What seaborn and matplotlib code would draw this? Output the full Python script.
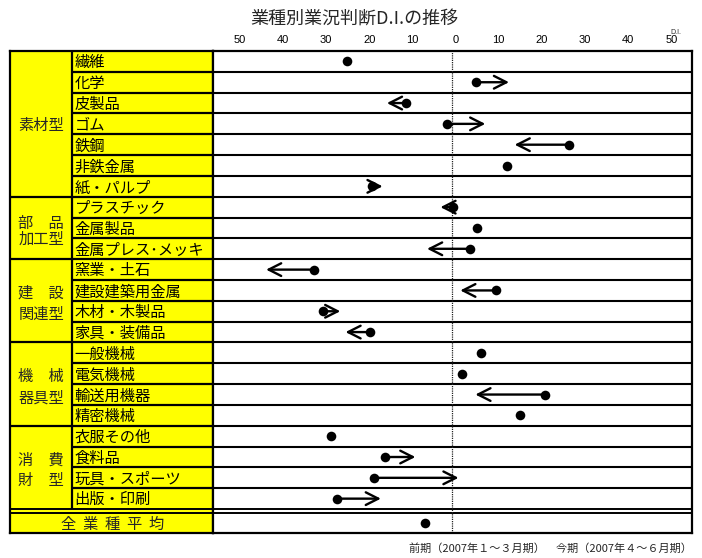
import matplotlib
matplotlib.use("Agg")
import matplotlib.pyplot as plt
import matplotlib.transforms as mtransforms
import numpy as np
import pandas as pd
import seaborn as sns

# ---- data -------------------------------------------------------------
groups = ["素材型", "部　品\n加工型", "建　設\n関連型", "機　械\n器具型", "消　費\n財　型"]
group_sizes = [7, 3, 4, 4, 4]

industries = [
    "繊維", "化学", "皮製品", "ゴム", "鉄鋼", "非鉄金属", "紙・パルプ",
    "プラスチック", "金属製品", "金属プレス･メッキ",
    "窯業・土石", "建設建築用金属", "木材・木製品", "家具・装備品",
    "一般機械", "電気機械", "輸送用機器", "精密機械",
    "衣服その他", "食料品", "玩具・スポーツ", "出版・印刷",
]
# previous period (Jan-Mar 2007) and current period (Apr-Jun 2007) D.I.
di_prev = [-24.4, 5.5, -10.7, -1.2, 26.9, 12.7, -18.7,
           0.1, 5.6, 4.1,
           -32.2, 10.0, -30.0, -19.2,
           6.7, 2.1, 21.5, 15.7,
           -28.1, -15.7, -18.1, -26.8]
di_curr = [-24.4, 13.1, -15.2, 7.6, 14.4, 12.7, -16.2,
           -2.8, 5.6, -5.9,
           -43.2, 1.8, -26.0, -24.8,
           6.7, 2.1, 5.3, 15.7,
           -28.1, -8.6, 1.4, -16.6]
avg_label = "全  業  種  平  均"
avg_prev = -6.3
avg_curr = -6.3

tick_values = [-50, -40, -30, -20, -10, 0, 10, 20, 30, 40, 50]
tick_labels = [str(abs(v)) for v in tick_values]

title = "業種別業況判断D.I.の推移"
footer = "前期（2007年１～３月期）　今期（2007年４～６月期）"

# ---- layout -----------------------------------------------------------
sns.set_theme(style="white")
plt.rcParams["font.family"] = ["Noto Sans CJK JP", "DejaVu Sans"]

W, H = 702, 558
fig = plt.figure(figsize=(W / 100, H / 100), dpi=100)
fig.patch.set_facecolor("white")

top_px, bot_px = 51, 533
left_px, split_px, right_px = 10, 213, 692
n = len(industries)
avg_pos = n + 0.175          # the average row sits below a double rule
y_lo, y_hi = -0.5, n + 0.65
label_fs = 11
text_dy = 0.06               # CJK glyphs sit a touch low in each cell

tab = fig.add_axes([left_px / W, 1 - bot_px / H, (split_px - left_px) / W,
                    (bot_px - top_px) / H])
ax = fig.add_axes([split_px / W, 1 - bot_px / H, (right_px - split_px) / W,
                   (bot_px - top_px) / H], sharey=tab)

df = pd.DataFrame({
    "industry": industries + ["全業種平均"],
    "prev": di_prev + [avg_prev],
    "curr": di_curr + [avg_curr],
})
df["pos"] = list(np.arange(n, dtype=float)) + [avg_pos]

# ---- label table ------------------------------------------------------
tab_w = split_px - left_px
grp_w = 72 - left_px
tab.set_xlim(0, tab_w)
tab.set_ylim(y_hi, y_lo)
tab.set_facecolor("#FFFF00")
for s in tab.spines.values():
    s.set_color("black")
    s.set_linewidth(1.6)
tab.set_xticks([])

bounds = np.cumsum(group_sizes)
for i in range(n - 1):
    y = i + 0.5
    if (i + 1) in bounds:
        tab.hlines(y, 0, tab_w, color="black", lw=1.6)
    else:
        tab.hlines(y, grp_w, tab_w, color="black", lw=1.6)
tab.hlines([n - 0.5, n - 0.3], 0, tab_w, color="black", lw=1.4)
tab.vlines(grp_w, y_lo, n - 0.5, color="black", lw=1.6)

for i, name in enumerate(industries):
    tab.text(grp_w + 2.5, i + text_dy, name, ha="left", va="center",
             fontsize=label_fs, color="black")

start = 0
gaps = [0.0, 0.75, 1.0, 1.0, 1.0]
for g, size, gap in zip(groups, group_sizes, gaps):
    center = start + (size - 1) / 2
    lines = g.split("\n")
    if len(lines) == 1:
        tab.text(grp_w / 2, center + text_dy, lines[0], ha="center",
                 va="center", fontsize=label_fs)
    else:
        c = center + 0.15
        tab.text(grp_w / 2, c - gap / 2, lines[0], ha="center", va="center",
                 fontsize=label_fs)
        tab.text(grp_w / 2, c + gap / 2, lines[1], ha="center", va="center",
                 fontsize=label_fs)
    start += size

tab.text(tab_w / 2 + 1, avg_pos + text_dy, avg_label, ha="center",
         va="center", fontsize=label_fs)

# ---- D.I. panel -------------------------------------------------------
ax.set_facecolor("white")
ax.set_xlim(-55.5, 55.5)
for s in ax.spines.values():
    s.set_color("black")
    s.set_linewidth(1.6)
for i in range(n - 1):
    ax.axhline(i + 0.5, color="black", lw=1.5, zorder=1)
ax.axhline(n - 0.5, color="black", lw=1.4, zorder=1)
ax.axhline(n - 0.3, color="black", lw=1.4, zorder=1)
ax.axvline(0, color="#222222", lw=0.9, ls=(0, (1, 0.8)), zorder=2)

moved = df[df["prev"] != df["curr"]]
for _, r in moved.iterrows():
    ax.annotate("", xy=(r["curr"], r["pos"]), xytext=(r["prev"], r["pos"]),
                arrowprops=dict(arrowstyle="->,head_length=0.75,head_width=0.38",
                                lw=1.7, color="black", shrinkA=0, shrinkB=0),
                zorder=4)

sns.scatterplot(data=df, x="prev", y="pos", color="black", s=48,
                linewidth=0, ax=ax, legend=False, zorder=5)

ax.set_xlabel("")
ax.set_ylabel("")
ax.set_yticks([])
ax.xaxis.tick_top()
ax.set_xticks(tick_values)
ax.set_xticklabels(tick_labels, family=["Liberation Sans", "DejaVu Sans"])
ax.tick_params(axis="x", length=0, pad=4, labelsize=8, colors="black")
shift = mtransforms.ScaledTranslation(3 / 100, 0, fig.dpi_scale_trans)
for lab in ax.get_xticklabels():
    lab.set_transform(lab.get_transform() + shift)
ax.set_ylim(y_hi, y_lo)

# ---- titles -----------------------------------------------------------
fig.text(354 / W, 1 - 19 / H, title, ha="center", va="center", fontsize=13)
fig.text(676 / W, 1 - 32 / H, "D.I.", ha="center", va="center", fontsize=5,
         family=["Liberation Sans", "DejaVu Sans"])
fig.text(692 / W, 1 - 549 / H, footer, ha="right", va="center", fontsize=8)

fig.savefig("out.png", dpi=100, facecolor="white")
